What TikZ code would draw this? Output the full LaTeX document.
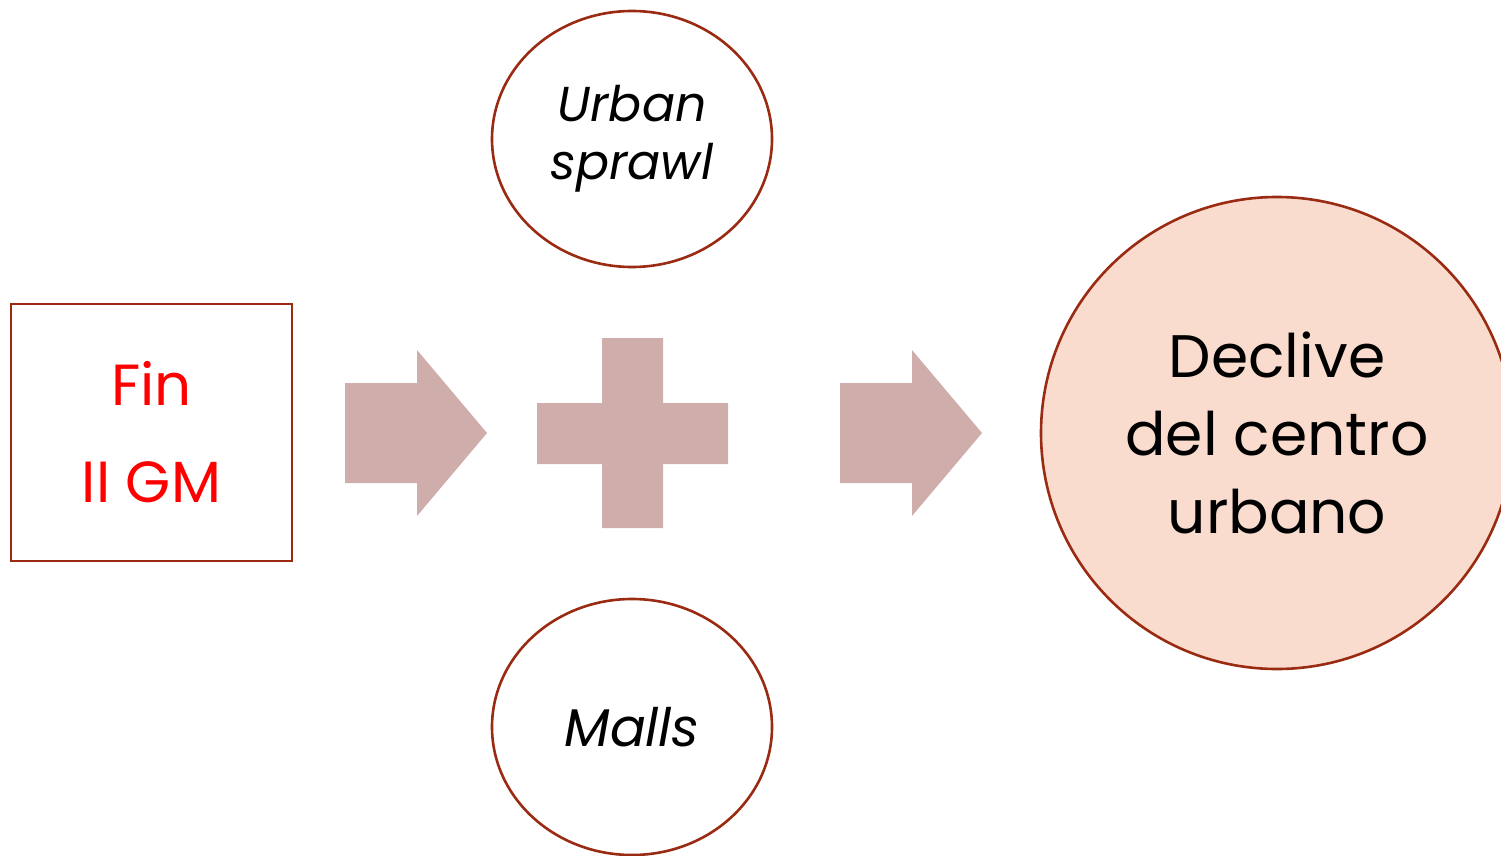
\documentclass[tikz,border=0pt]{standalone}
\usepackage{fontspec}
\setmainfont{Poppins}
\usetikzlibrary{shapes.geometric}
\definecolor{edge}{HTML}{9A2B12}
\definecolor{blockfill}{HTML}{CFADAA}
\definecolor{bigfill}{HTML}{F9DCCD}
\definecolor{textred}{HTML}{FF0000}
\tikzset{
  outline/.style={draw=edge, line width=2.6pt},
  oval/.style={outline, ellipse, fill=white, minimum width=280pt, minimum height=256pt, inner sep=0pt, align=center},
  block/.style={fill=blockfill, draw=none}
}
\begin{document}
\begin{tikzpicture}[x=1pt,y=-1pt]
\useasboundingbox (0,0) rectangle (1501,856);
\clip (0,0) rectangle (1501,856);
% left box
\node[outline, fill=white, minimum width=281pt, minimum height=257pt, inner sep=0pt, align=center,
      font=\fontsize{58}{97}\selectfont, text=textred] (fin) at (151.5,432.5) {Fin\\II GM};
% top and bottom ovals
\node[oval, font=\fontsize{49}{58}\selectfont\itshape] (urban) at (632,139) {Urban\\sprawl};
\node[oval, font=\fontsize{53}{60}\selectfont\itshape] (malls) at (632,727) {Malls};
% big circle
\node[outline, circle, fill=bigfill, minimum size=472pt, inner sep=0pt, align=center,
      font=\fontsize{60}{78}\selectfont] (declive) at (1277,433) {Declive\\del centro\\urbano};
% block arrow 1
\coordinate (a1) at (345,383);
\fill[block] (a1) -- (417,383) -- (417,350) -- (487,433) -- (417,516) -- (417,483) -- (345,483) -- cycle;
% plus sign
\coordinate (plus) at (632.5,433);
\fill[block] (602,338) -- (663,338) -- (663,403) -- (728,403) -- (728,464) -- (663,464) -- (663,528)
  -- (602,528) -- (602,464) -- (537,464) -- (537,403) -- (602,403) -- cycle;
% block arrow 2
\coordinate (a2) at (840,383);
\fill[block] (a2) -- (912,383) -- (912,350) -- (982,433) -- (912,516) -- (912,483) -- (840,483) -- cycle;
\end{tikzpicture}
\end{document}
